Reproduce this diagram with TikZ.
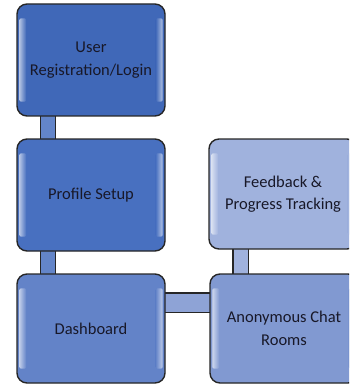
\documentclass[tikz,border=0pt]{standalone}
\usepackage{fontspec}
\setmainfont{Carlito}
\usetikzlibrary{calc}
\definecolor{cA}{HTML}{4068B8}
\definecolor{cB}{HTML}{4870C0}
\definecolor{cC}{HTML}{6383C8}
\definecolor{cD}{HTML}{8199D1}
\definecolor{cE}{HTML}{A0B2DD}
\definecolor{txt}{HTML}{181828}
\newcommand{\boxhl}[2]{%
  \shade[left color=#2!40!white, middle color=white, right color=#2, rounded corners=2pt]
    ([xshift=3pt,yshift=-15pt]#1.north west) rectangle ([xshift=10pt,yshift=15pt]#1.south west);
  \shade[left color=#2, middle color=white, right color=#2!40!white, rounded corners=2pt]
    ([xshift=-10pt,yshift=-15pt]#1.north east) rectangle ([xshift=-3pt,yshift=15pt]#1.south east);
}
\begin{document}
\begin{tikzpicture}[x=1pt,y=-1pt,
  box/.style={draw=black!85, line width=1.4pt, rounded corners=10pt, minimum width=148pt,
    inner sep=0pt, align=center, text=txt, font=\fontsize{16.5}{22.5}\selectfont},
  conn/.style={draw=black!85, line width=1.3pt, double distance=#1}]
\useasboundingbox (0,0) rectangle (349,385);
\clip (0,0) rectangle (349,385);
% connectors
\draw[conn=14pt, double=cB!85!white] (48,116) coordinate (k1) -- (48,139) coordinate (k2);
\draw[conn=14pt, double=cB!85!white] (48,251) coordinate (k3) -- (48,274) coordinate (k4);
\draw[conn=18pt, double=cD!90!white] (165,302.5) coordinate (k5) -- (210,302.5) coordinate (k6);
\draw[conn=14pt, double=cE] (240.5,249) coordinate (k7) -- (240.5,274) coordinate (k8);
% boxes
\node[box, fill=cA, minimum height=112pt] (b1) at (91,60) {User\\Registration/Login};
\node[box, fill=cB, minimum height=112pt] (b2) at (91,195) {Profile Setup};
\node[box, fill=cC, minimum height=109pt] (b3) at (91,328.5) {Dashboard};
\node[box, fill=cD, minimum height=109pt] (b4) at (284,328.5) {Anonymous Chat\\Rooms};
\node[box, fill=cE, minimum height=110pt] (b5) at (283,194) {Feedback \&\\Progress Tracking};
\boxhl{b1}{cA}
\boxhl{b2}{cB}
\boxhl{b3}{cC}
\boxhl{b4}{cD}
\boxhl{b5}{cE}
\end{tikzpicture}
\end{document}
